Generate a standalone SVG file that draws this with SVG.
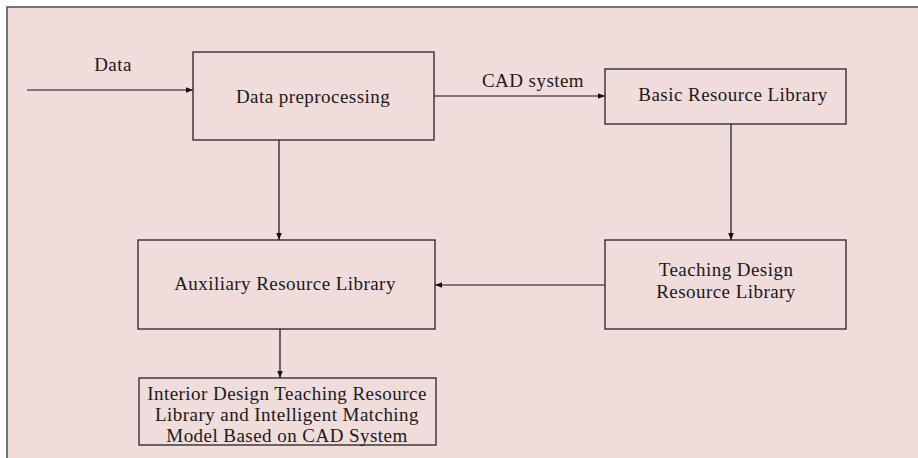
<svg xmlns="http://www.w3.org/2000/svg" width="918" height="458" viewBox="0 0 918 458">
<defs>
<marker id="ah" viewBox="0 0 10 10" refX="10" refY="5" markerWidth="7" markerHeight="7" markerUnits="userSpaceOnUse" orient="auto">
<path d="M0,1 L10,5 L0,9 z" fill="#111"/>
</marker>
<style>
.box{fill:none;stroke:#222;stroke-width:1.3}
.t{font-family:"Liberation Serif","Times New Roman",serif;font-size:19px;letter-spacing:0.45px;fill:#1a1a1a;text-anchor:middle}
.c{stroke:#111;stroke-width:1.2;fill:none;marker-end:url(#ah)}
</style>
</defs>
<rect x="0" y="0" width="918" height="458" fill="#ffffff"/>
<rect x="7" y="7" width="930" height="470" fill="#f0dcdb" stroke="#333" stroke-width="1.3"/>
<g id="connectors">
<line class="c" x1="27" y1="90" x2="193" y2="90"/>
<line class="c" x1="434" y1="96" x2="605" y2="96"/>
<line class="c" x1="279" y1="140" x2="279" y2="240"/>
<line class="c" x1="731" y1="124" x2="731" y2="240"/>
<line class="c" x1="605" y1="285" x2="435" y2="285"/>
<line class="c" x1="280" y1="329" x2="280" y2="378"/>
<text class="t" x="113" y="71">Data</text>
<text class="t" x="533" y="87">CAD system</text>
</g>
<g id="data-preprocessing">
<rect class="box" x="193" y="52" width="241" height="88"/>
<text class="t" x="313" y="103">Data preprocessing</text>
</g>
<g id="basic-resource-library">
<rect class="box" x="605" y="69" width="241" height="55"/>
<text class="t" x="733" y="101">Basic Resource Library</text>
</g>
<g id="teaching-design-resource-library">
<rect class="box" x="605" y="240" width="241" height="89"/>
<text class="t" x="726" y="276">Teaching Design</text>
<text class="t" x="726" y="298">Resource Library</text>
</g>
<g id="auxiliary-resource-library">
<rect class="box" x="138" y="240" width="297" height="89"/>
<text class="t" x="285" y="290">Auxiliary Resource Library</text>
</g>
<g id="interior-design-model">
<rect class="box" x="139" y="378" width="297" height="67"/>
<text class="t" x="287" y="400">Interior Design Teaching Resource</text>
<text class="t" x="287" y="421">Library and Intelligent Matching</text>
<text class="t" x="287" y="442">Model Based on CAD System</text>
</g>
</svg>
